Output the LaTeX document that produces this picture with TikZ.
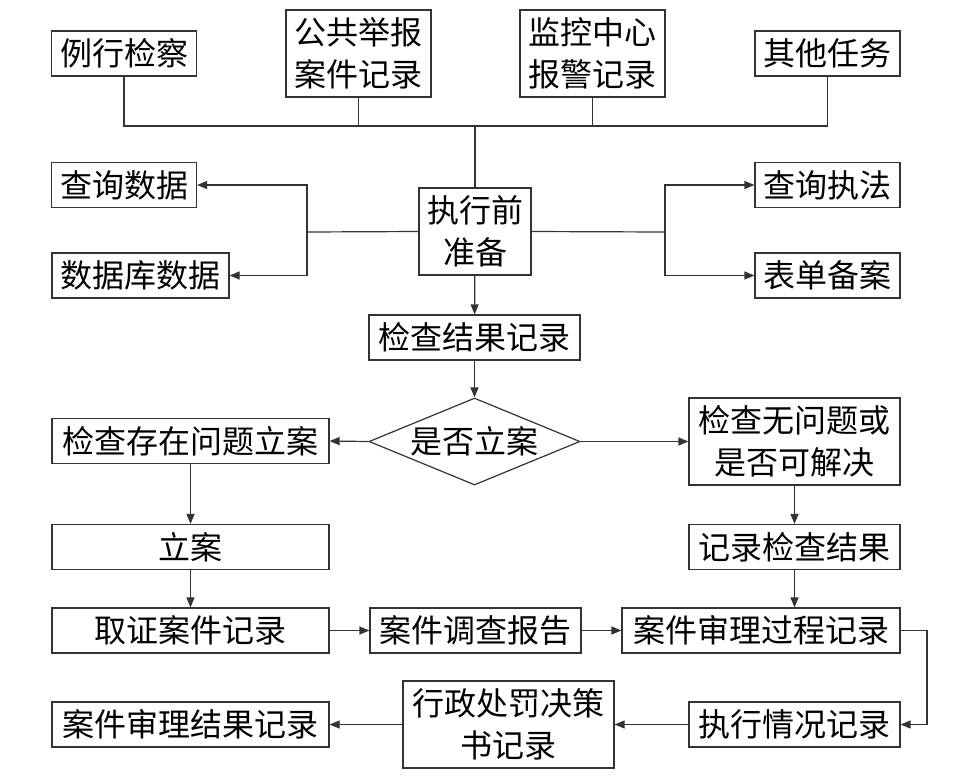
\documentclass[tikz,border=0pt]{standalone}
\usepackage{fontspec}
\setmainfont{Noto Sans CJK SC}
\usepackage{tikz}
\usetikzlibrary{shapes.geometric,arrows.meta}
\tikzset{
  box/.style={draw=black!80,line width=0.9pt,inner sep=0pt,minimum width=#1,minimum height=33.75pt,align=center,font=\fontsize{24}{31.5}\selectfont},
  box/.default=108.75pt,
  tallbox/.style={box=#1,minimum height=65.25pt},
  link/.style={draw=black!80,line width=0.9pt},
  arr/.style={link,-{Triangle[length=7.5pt,width=6pt]}}
}

\begin{document}
\begin{tikzpicture}[x=0.75pt,y=0.75pt,yscale=-1,xscale=1]
\useasboundingbox (0,0) rectangle (974,779);
\node[box] (lxjc) at (124,53.5) {例行检察};
\node[tallbox=108.75pt] (ggjb) at (358.5,53.5) {公共举报\\案件记录};
\node[tallbox=108.75pt] (jkzx) at (592.5,53.5) {监控中心\\报警记录};
\node[box] (qtrw) at (827.5,53.5) {其他任务};
\node[box] (cxsj) at (124,185) {查询数据};
\node[box=132.75pt] (sjksj) at (140.5,275.5) {数据库数据};
\node[tallbox=84pt] (zxzb) at (475,231.5) {执行前\\准备};
\node[box] (cxzf) at (827.5,185) {查询执法};
\node[box] (bdba) at (827.5,275.5) {表单备案};
\node[box=158.25pt] (jcjg) at (474.5,337.5) {检查结果记录};
\node[box,diamond,aspect=2.4,minimum width=158.25pt,minimum height=65.25pt] (sfla) at (474.5,441.5) {是否立案};
\node[box=207.75pt] (czwt) at (190.5,441) {检查存在问题立案};
\node[tallbox=158.25pt] (wwt) at (794.5,441.5) {检查无问题或\\是否可解决};
\node[box=207.75pt] (la) at (190.5,547) {立案};
\node[box=158.25pt] (jljc) at (794.5,547) {记录检查结果};
\node[box=207.75pt] (qzaj) at (190.5,630.5) {取证案件记录};
\node[box=158.25pt] (dcbg) at (475.5,630.5) {案件调查报告};
\node[box=208.5pt] (slgc) at (761,630.5) {案件审理过程记录};
\node[box=207.75pt] (sljg) at (190.5,724.5) {案件审理结果记录};
\node[tallbox=158.25pt] (xzcf) at (508.5,724.5) {行政处罚决策\\书记录};
\node[box=158.25pt] (zxqk) at (794.5,724.5) {执行情况记录};
\coordinate (bus) at (475,126);
\coordinate (lfork) at (307,232);
\coordinate (rfork) at (665,232);
\coordinate (turn) at (927,630.5);
\draw[link] (lxjc.south) |- (bus) -| (qtrw.south);
\draw[link] (ggjb.south) -- (ggjb.south|-bus);
\draw[link] (jkzx.south) -- (jkzx.south|-bus);
\draw[link] (bus) -- (zxzb.north);
\draw[link] (zxzb.west) -- (lfork);
\draw[arr] (lfork) |- (cxsj);
\draw[arr] (lfork) |- (sjksj);
\draw[link] (zxzb.east) -- (rfork);
\draw[arr] (rfork) |- (cxzf);
\draw[arr] (rfork) |- (bdba);
\draw[arr] (zxzb) -- (jcjg);
\draw[arr] (jcjg) -- (sfla);
\draw[arr] (sfla.west) -- (czwt.east);
\draw[arr] (sfla) -- (wwt);
\draw[arr] (czwt) -- (la);
\draw[arr] (wwt) -- (jljc);
\draw[arr] (la) -- (qzaj);
\draw[arr] (jljc.south) -- (jljc.south|-slgc.north);
\draw[arr] (qzaj) -- (dcbg);
\draw[arr] (dcbg) -- (slgc);
\draw[arr] (slgc.east) -- (turn) |- (zxqk.east);
\draw[arr] (zxqk) -- (xzcf);
\draw[arr] (xzcf) -- (sljg);
\end{tikzpicture}
\end{document}
